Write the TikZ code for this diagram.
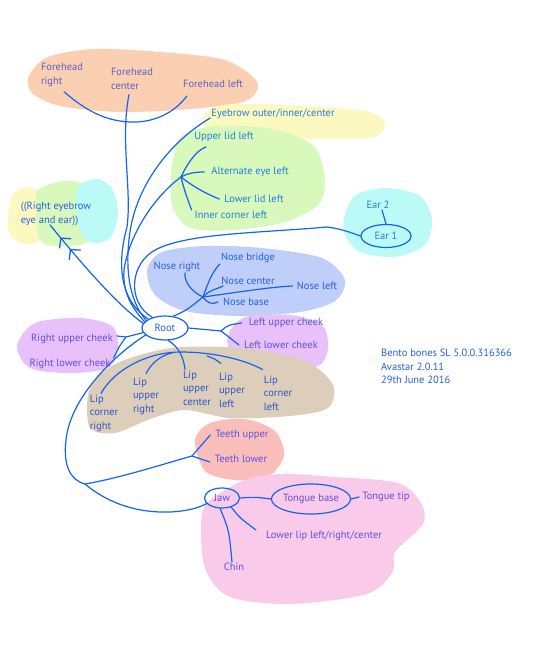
\documentclass[tikz,border=0pt]{standalone}
\usepackage{fontspec}
\setmainfont{PT Sans}
\usepackage{tikz}
\usetikzlibrary{shapes.geometric,arrows.meta,calc,decorations.markings}
\definecolor{wirecol}{RGB}{20,100,240}
\definecolor{txtgrey}{RGB}{95,95,195}
\definecolor{txtteal}{RGB}{35,125,215}
\definecolor{txtblue}{RGB}{40,95,225}
\definecolor{txtviolet}{RGB}{95,80,225}
\definecolor{txtlip}{RGB}{45,85,195}
\definecolor{peach}{RGB}{250,207,178}
\definecolor{lemon}{RGB}{252,249,192}
\definecolor{mint}{RGB}{216,248,188}
\definecolor{aqua}{RGB}{188,250,248}
\definecolor{periwinkle}{RGB}{192,206,250}
\definecolor{lilac}{RGB}{232,192,250}
\definecolor{sand}{RGB}{220,206,186}
\definecolor{salmon}{RGB}{250,190,186}
\definecolor{blush}{RGB}{250,202,234}
\tikzset{
  bone/.style={
    font=\fontsize{10.5}{13.5}\selectfont,
    text=txtblue,
    inner sep=1pt,
    align=left
  },
  joint/.style={
    bone,
    shape=ellipse,
    draw=wirecol,
    line width=1.2pt,
    inner sep=0pt
  },
  wire/.style={
    draw=wirecol,
    line width=1.2pt,
    line cap=round
  },
  chevrons/.style={
    postaction={decorate},
    decoration={markings,
      mark=at position 0.77 with {\arrow[wirecol,line width=1.3pt]{Straight Barb[length=7pt,width=15pt]}},
      mark=at position 0.88 with {\arrow[wirecol,line width=1.3pt]{Straight Barb[length=7pt,width=15pt]}}}
  }
}
\begin{document}
\begin{tikzpicture}[x=1pt,y=-1pt]
        \useasboundingbox[fill=white] (0,0) rectangle (540,653);

        % coloured patches
        \fill[peach] plot[smooth cycle] coordinates {(29,76) (48,57) (95,49) (160,52) (225,60) (257,82) (246,101) (190,109) (120,112) (60,106) (32,93)};
        \fill[lemon] plot[smooth cycle] coordinates {(206,112) (232,104) (300,106) (366,111) (385,123) (374,137) (320,139) (250,136) (207,127)};
        \fill[mint] plot[smooth cycle] coordinates {(172,165) (182,136) (216,126) (272,129) (314,146) (325,180) (318,205) (285,222) (235,230) (190,228) (172,205)};
        \fill[lemon] plot[smooth cycle] coordinates {(8,215) (14,193) (28,187) (42,195) (44,225) (38,242) (20,243) (9,232)};
        \fill[mint] plot[smooth cycle] coordinates {(38,190) (65,181) (92,188) (98,220) (86,243) (55,246) (40,240) (36,215)};
        \fill[aqua] plot[smooth cycle] coordinates {(78,186) (98,179) (113,190) (118,215) (110,238) (92,243) (80,230) (76,208)};
        \fill[aqua] plot[smooth cycle] coordinates {(345,215) (356,195) (386,188) (420,196) (432,220) (425,245) (395,257) (360,252) (345,235)};
        \fill[periwinkle] plot[smooth cycle] coordinates {(147,270) (162,252) (205,246) (262,248) (322,258) (345,280) (335,301) (300,312) (240,316) (185,311) (155,295)};
        \fill[lilac] plot[smooth cycle] coordinates {(230,331) (246,317) (290,315) (322,325) (328,348) (318,366) (280,368) (240,362) (228,346)};
        \fill[lilac] plot[smooth cycle] coordinates {(17,346) (35,323) (80,318) (112,326) (118,348) (108,368) (70,373) (30,368)};
        \fill[sand] plot[smooth cycle] coordinates {(88,395) (100,374) (130,358) (180,347) (250,349) (306,361) (333,385) (328,408) (290,416) (230,418) (185,410) (150,419) (115,433) (90,428)};
        \fill[salmon] plot[smooth cycle] coordinates {(195,440) (210,423) (245,419) (275,431) (284,455) (270,475) (235,480) (205,471)};
        \fill[blush] plot[smooth cycle] coordinates {(207,503) (245,480) (282,474) (335,477) (398,483) (421,503) (423,524) (395,552) (393,571) (367,594) (290,604) (230,597) (206,571) (201,530)};

        % labels
        \node[bone, text=txtgrey] (fhR) at (62,75) {Forehead\\right};
        \node[bone, text=txtgrey] (fhC) at (132,79) {Forehead\\center};
        \node[bone, text=txtgrey] (fhL) at (213,84) {Forehead left};
        \node[bone, text=txtteal] (brow) at (273,114) {Eyebrow outer/inner/center};
        \node[bone, text=txtteal] (lidU) at (224,137) {Upper lid left};
        \node[bone, text=txtteal] (eyeA) at (250,172) {Alternate eye left};
        \node[bone, text=txtteal] (lidL) at (254,199) {Lower lid left};
        \node[bone, text=txtteal] (inner) at (231,215) {Inner corner left};
        \node[bone] (rside) at (56,214) {((Right eyebrow\\eye and ear))};
        \node[bone, text=txtteal] (ear2) at (378,205) {Ear 2};
        \node[joint, text=txtteal, minimum width=50pt, minimum height=23pt] (ear1) at (386,236) {Ear 1};
        \node[bone] (nBr) at (248,258) {Nose bridge};
        \node[bone] (nR) at (177,267) {Nose right};
        \node[bone] (nC) at (248,281) {Nose center};
        \node[bone] (nL) at (317,286) {Nose left};
        \node[bone] (nB) at (246,302) {Nose base};
        \node[joint, minimum width=46pt, minimum height=24pt] (root) at (165,328) {Root};
        \node[bone, text=txtviolet] (cLU) at (286,323) {Left upper cheek};
        \node[bone, text=txtviolet] (cLL) at (281,345) {Left lower cheek};
        \node[bone, text=txtviolet] (cRU) at (72,339) {Right upper cheek};
        \node[bone, text=txtviolet] (cRL) at (70,364) {Right lower cheek};
        \node[bone, text=txtlip] (lipCR) at (104,413) {Lip\\corner\\right};
        \node[bone, text=txtlip] (lipUR) at (146,396) {Lip\\upper\\right};
        \node[bone, text=txtlip] (lipUC) at (197,388) {Lip\\upper\\center};
        \node[bone, text=txtlip] (lipUL) at (232,390) {Lip\\upper\\left};
        \node[bone, text=txtlip] (lipCL) at (278,393) {Lip\\corner\\left};
        \node[bone, text=txtviolet] (tU) at (242,435) {Teeth upper};
        \node[bone, text=txtviolet] (tL) at (241,459) {Teeth lower};
        \node[joint, text=txtviolet, minimum width=35pt, minimum height=20pt] (jaw) at (222,498) {Jaw};
        \node[joint, text=txtviolet, minimum width=70pt, minimum height=30pt] (tBase) at (311,499) {Tongue base};
        \node[bone, text=txtviolet] (tTip) at (386,497) {Tongue tip};
        \node[bone, text=txtviolet] (lowLip) at (324,536) {Lower lip left/right/center};
        \node[bone, text=txtviolet] (chin) at (234,567) {Chin};
        \node[bone, anchor=north west] (info) at (380,348) {Bento bones SL 5.0.0.316366\\Avastar 2.0.11\\29th June 2016};

        % junctions
        \coordinate (fhJ) at (130,122);
        \coordinate (eyeJ) at (181,177);
        \coordinate (nJ) at (203,297);
        \coordinate (cJL) at (221,331);
        \coordinate (cJR) at (126,337);
        \coordinate (lArcA) at (172,353);
        \coordinate (lArcB) at (207,356);
        \coordinate (trk) at (85,484);
        \coordinate (tJ) at (192,456);

        % forehead
        \draw[wire] ([xshift=2pt,yshift=-4pt]fhR.south) .. controls (85,110) and (105,121) .. (fhJ) .. controls (155,123) and (175,112) .. ([xshift=5pt,yshift=-7pt]fhL.south west);
        \draw[wire] ([xshift=-3pt,yshift=-4pt]fhC.south) .. controls (120,140) and (132,190) .. (127,227) .. controls (120,252) and (114,296) .. (root.152);
        \draw[wire] ([yshift=2pt]brow.south west) .. controls (165,145) and (136,190) .. (130,232) .. controls (125,265) and (128,300) .. (root.158);
        % eye
        \draw[wire] (eyeJ) .. controls (150,200) and (128,240) .. (124,270) .. controls (122,296) and (136,312) .. (root.163);
        \draw[wire] (eyeJ) .. controls (188,162) and (197,150) .. ([xshift=13pt,yshift=-4pt]lidU.south west);
        \draw[wire] (eyeJ) .. controls (188,173) and (196,172) .. ([xshift=-6pt]eyeA.west);
        \draw[wire] (eyeJ) .. controls (195,188) and (207,194) .. ([xshift=-4pt]lidL.west);
        \draw[wire] (eyeJ) .. controls (184,190) and (188,200) .. ([xshift=-2pt]inner.north west);
        % other side
        \draw[wire, chevrons] (root.168) .. controls (118,305) and (85,268) .. ([xshift=-6pt,yshift=2pt]rside.south);
        % ear
        \draw[wire] (root.140) .. controls (126,302) and (130,262) .. (157,249) .. controls (190,233) and (260,233) .. (327,227) .. controls (342,229) and (352,233) .. (ear1.west);
        \draw[wire] ([xshift=4pt]ear2.south) -- (ear1.north);
        % nose
        \draw[wire] (root.55) .. controls (187,310) .. (nJ);
        \draw[wire] (nJ) .. controls (192,292) and (184,282) .. ([xshift=8pt]nR.south);
        \draw[wire] (nJ) .. controls (208,283) and (212,272) .. (nBr.south west);
        \draw[wire] (nJ) .. controls (208,292) .. ([xshift=3pt]nC.south west);
        \draw[wire] (nJ) .. controls (240,292) and (270,287) .. ([xshift=-3pt]nL.west);
        \draw[wire] (nJ) .. controls (207,303) and (212,305) .. ([xshift=-4pt]nB.west);
        % cheeks
        \draw[wire] (root.east) -- (cJL);
        \draw[wire] (cJL) .. controls (228,325) .. ([xshift=-6pt]cLU.west);
        \draw[wire] (cJL) .. controls (229,338) .. ([xshift=-4pt]cLL.west);
        \draw[wire] (root.192) -- (cJR);
        \draw[wire] (cJR) -- ([xshift=3pt,yshift=3pt]cRU.east);
        \draw[wire] (cJR) .. controls (120,345) .. ([xshift=2pt]cRL.north east);
        % lips
        \draw[wire] ([xshift=-3pt]lipCR.north) .. controls (115,368) and (150,352) .. (180,352) .. controls (215,352) and (245,360) .. ([yshift=5pt]lipCL.north west);
        \draw[wire] (root.-75) .. controls (175,345) and (183,352) .. ([xshift=-12pt]lipUC.north);
        \draw[wire] ([yshift=3pt]lipUR.north) .. controls (152,362) and (162,355) .. (lArcA);
        \draw[wire] (lArcB) .. controls (215,359) .. ([xshift=-11pt,yshift=8pt]lipUL.north);
        % teeth and jaw
        \draw[wire] (root.200) .. controls (110,358) and (70,400) .. (66,440) .. controls (63,465) and (70,480) .. (trk);
        \draw[wire] (trk) .. controls (120,478) and (160,465) .. (tJ);
        \draw[wire] (tJ) -- ([xshift=-4pt]tU.west);
        \draw[wire] (tJ) -- ([xshift=-4pt,yshift=-3pt]tL.west);
        \draw[wire] (trk) .. controls (110,505) and (140,513) .. (170,512) .. controls (190,511) and (200,507) .. (jaw.200);
        \draw[wire] (jaw.east) .. controls (255,497) .. (tBase.west);
        \draw[wire] (tBase.east) -- ([xshift=-2pt]tTip.west);
        \draw[wire] (jaw.-45) .. controls (240,518) .. ([xshift=-9pt]lowLip.north west);
        \draw[wire] (jaw.-100) .. controls (229,530) .. ([xshift=-2pt]chin.north);
\end{tikzpicture}
\end{document}
